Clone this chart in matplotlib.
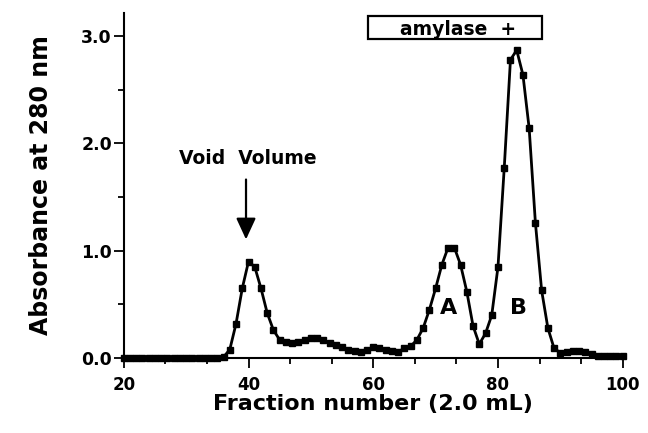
import matplotlib.pyplot as plt
from matplotlib.patches import Rectangle
from matplotlib.ticker import MultipleLocator

# номер фракції та поглинання при 280 нм
fractions = list(range(20, 101))
absorbance = [0.00] * 16 + [
    0.01, 0.08, 0.32, 0.65, 0.90, 0.85, 0.65, 0.42, 0.26, 0.17,   # 36-45
    0.15, 0.14, 0.15, 0.17, 0.19, 0.19, 0.17, 0.14, 0.12, 0.10,   # 46-55
    0.08, 0.07, 0.06, 0.08, 0.10, 0.09, 0.08, 0.07, 0.06, 0.09,   # 56-65
    0.11, 0.17, 0.28, 0.45, 0.65, 0.87, 1.03, 1.03, 0.87, 0.62,   # 66-75
    0.30, 0.13, 0.23, 0.40, 0.85, 1.77, 2.78, 2.87, 2.64, 2.14,   # 76-85
    1.26, 0.63, 0.28, 0.09, 0.05, 0.06, 0.07, 0.07, 0.06, 0.04,   # 86-95
    0.02, 0.02, 0.02, 0.02, 0.02,                                 # 96-100
]

x_ticks = [20, 40, 60, 80, 100]
x_tick_labels = ["20", "40", "60", "80", "100"]
y_ticks = [0, 1, 2, 3]
y_tick_labels = ["0.0", "1.0", "2.0", "3.0"]

plt.rcParams['font.family'] = ['DejaVu Sans']
plt.rcParams['font.weight'] = 'bold'

fig = plt.figure(figsize=(6.48, 4.33), dpi=100)
ax = fig.add_axes([0.191, 0.173, 0.770, 0.798])

ax.plot(fractions, absorbance, color='black', linewidth=2.0,
        marker='s', markersize=3.8, clip_on=False, zorder=3)

ax.set_xlim(20, 100)
ax.set_ylim(0, 3.22)

ax.spines['top'].set_visible(False)
ax.spines['right'].set_visible(False)
ax.spines['left'].set_linewidth(1.5)
ax.spines['bottom'].set_linewidth(1.5)

ax.set_xticks(x_ticks)
ax.set_xticklabels(x_tick_labels, fontsize=12, fontweight='bold')
ax.set_yticks(y_ticks)
ax.set_yticklabels(y_tick_labels, fontsize=12.5, fontweight='bold')
ax.xaxis.set_minor_locator(MultipleLocator(20 / 3))
ax.yaxis.set_minor_locator(MultipleLocator(0.5))
ax.tick_params(axis='x', which='major', direction='out', length=7, width=1.3, pad=6)
ax.tick_params(axis='x', which='minor', direction='out', length=4.5, width=1.3)
ax.tick_params(axis='y', which='major', direction='out', length=7.5, width=1.3, pad=1)
ax.tick_params(axis='y', which='minor', direction='out', length=4, width=1.3)

ax.set_xlabel("Fraction number (2.0 mL)", fontsize=16, fontweight='bold', labelpad=0)
ax.set_ylabel("Absorbance at 280 nm", fontsize=17, fontweight='bold', labelpad=20)

# стрілка до void volume
ax.text(39.9, 1.86, "Void  Volume", fontsize=13.5, fontweight='bold',
        ha='center', va='center')
ax.annotate("", xy=(39.6, 1.08), xytext=(39.6, 1.69),
            arrowprops=dict(arrowstyle='-|>,head_width=0.6,head_length=1.3',
                            color='black', lw=1.6))

# піки A та B
ax.text(72.0, 0.47, "A", fontsize=16, fontweight='bold', ha='center', va='center')
ax.text(83.3, 0.47, "B", fontsize=16, fontweight='bold', ha='center', va='center')

# рамка amylase +
ax.add_patch(Rectangle((59.1, 2.97), 28.0, 0.22, fill=False, edgecolor='black',
                       linewidth=1.6, clip_on=False))
ax.text(73.6, 3.06, "amylase  +", fontsize=13.5, fontweight='bold',
        ha='center', va='center')

fig.savefig("out.png", dpi=100)
